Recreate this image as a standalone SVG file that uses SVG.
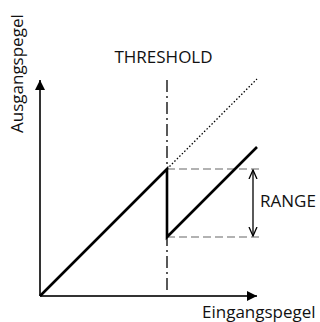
<svg xmlns="http://www.w3.org/2000/svg" width="320" height="322" viewBox="0 0 320 322">
<defs>
<style>
.t{font-family:"Open Sans","DejaVu Sans",sans-serif;font-size:17px;fill:#111}
.ax{stroke:#333;stroke-width:2;fill:none}
.main{stroke:#000;stroke-width:2.6;fill:none;stroke-linejoin:miter}
.gd{stroke:#999;stroke-width:1.3;stroke-dasharray:8,4;fill:none}
.dd{stroke:#000;stroke-width:1.3;stroke-dasharray:12,4,2,4;fill:none}
.dot{stroke:#000;stroke-width:1.3;stroke-dasharray:1.5,2;fill:none}
.thin{stroke:#000;stroke-width:1.3;fill:none}
</style>
<marker id="ah" markerWidth="10" markerHeight="10" refX="10" refY="5" orient="auto" markerUnits="userSpaceOnUse">
<path d="M0,0 L10,5 L0,10 Z" fill="#000"/>
</marker>
<marker id="oa" markerWidth="10" markerHeight="10" refX="9" refY="5" orient="auto-start-reverse" markerUnits="userSpaceOnUse">
<path d="M0,1 L9,5 L0,9" fill="none" stroke="#000" stroke-width="1.3"/>
</marker>
</defs>
<g id="connectors">
<line class="ax" x1="40" y1="296" x2="40" y2="80" marker-end="url(#ah)"/>
<line class="ax" x1="40" y1="296" x2="257" y2="296" marker-end="url(#ah)"/>
<line class="dd" x1="167" y1="80" x2="167" y2="292"/>
<line class="gd" x1="167" y1="169" x2="259" y2="169"/>
<line class="gd" x1="167" y1="237" x2="259" y2="237"/>
<line class="dot" x1="167" y1="169" x2="257" y2="79"/>
<path class="main" d="M40,296 L167,169 L167,237 L257,147"/>
<line class="thin" x1="253" y1="170" x2="253" y2="236" marker-start="url(#oa)" marker-end="url(#oa)"/>
</g>
<g id="threshold"><text class="t" x="163.5" y="63" text-anchor="middle">THRESHOLD</text></g>
<g id="range"><text class="t" x="260" y="207">RANGE</text></g>
<g id="ausgangspegel"><text class="t" transform="translate(23,133) rotate(-90)">Ausgangspegel</text></g>
<g id="eingangspegel"><text class="t" x="202" y="318">Eingangspegel</text></g>
</svg>
